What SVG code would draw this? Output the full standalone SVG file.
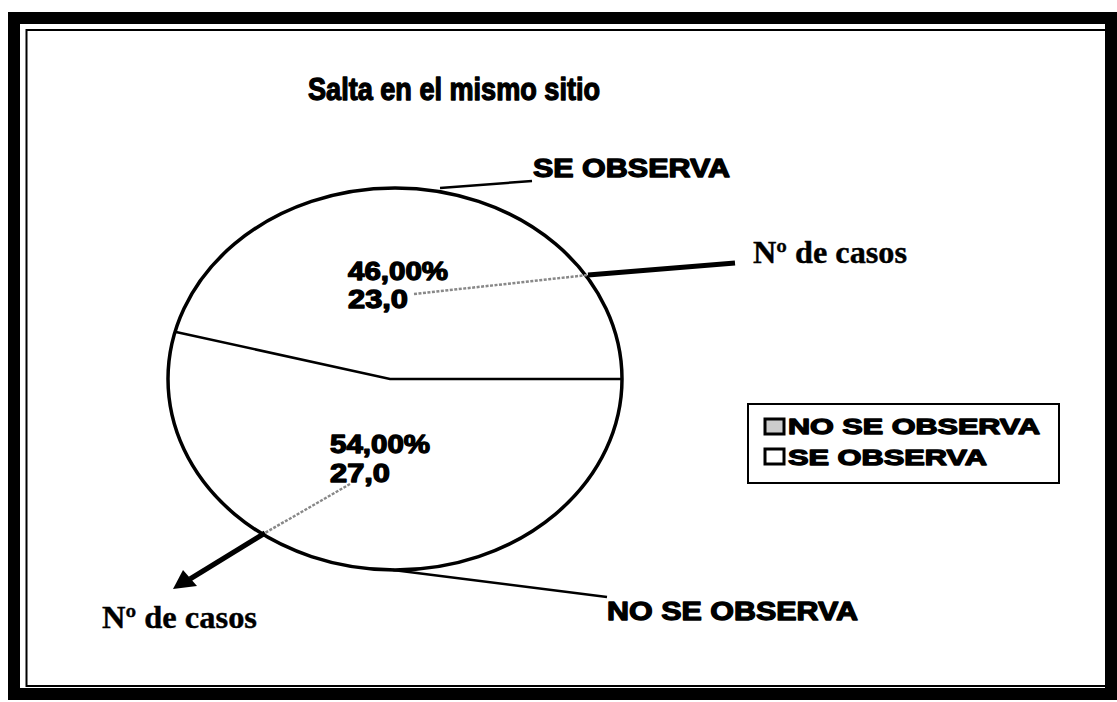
<svg xmlns="http://www.w3.org/2000/svg" width="1117" height="702" viewBox="0 0 1117 702">
<style>
.hv{font-family:"Liberation Sans",Arial,sans-serif;font-weight:bold;fill:#000;stroke:#000;stroke-width:1.3;stroke-linejoin:round}
.tm{font-family:"Liberation Serif","Times New Roman",serif;font-weight:bold;fill:#000;stroke:#000;stroke-width:0.4}
.ln{fill:none;stroke:#000;stroke-width:2.5}
.dot{fill:none;stroke:#888;stroke-width:2.5;stroke-dasharray:3 1.5}
</style>
<rect x="0" y="0" width="1117" height="702" fill="#fff"/>
<g id="frame">
<rect x="14" y="18" width="1097" height="676" fill="none" stroke="#000" stroke-width="12"/>
<rect x="26.5" y="30" width="1082" height="656" fill="none" stroke="#000" stroke-width="2"/>
</g>
<g id="title"><text class="hv" x="308" y="100" font-size="31" textLength="292" lengthAdjust="spacingAndGlyphs">Salta en el mismo sitio</text></g>
<g id="pie">
<ellipse cx="395" cy="379" rx="227" ry="191" fill="#fff" stroke="#000" stroke-width="3.5"/>
<polyline class="ln" points="176,332 390,379 622,379"/>
</g>
<g id="connectors">
<polyline class="ln" points="393,570 607,597"/>
<polyline class="ln" points="440,188 532,181"/>
<line class="dot" x1="414" y1="294" x2="588" y2="275"/>
<line x1="588" y1="275" x2="735" y2="263" stroke="#000" stroke-width="5"/>
<line class="dot" x1="350" y1="484" x2="265" y2="533"/>
<line x1="265" y1="533" x2="190" y2="579" stroke="#000" stroke-width="5"/>
<polygon points="173,589 183,570 197,586" fill="#000"/>
</g>
<g id="label-se">
<text class="hv" x="533" y="177" font-size="26" textLength="197" lengthAdjust="spacingAndGlyphs">SE OBSERVA</text>
<text class="hv" x="348" y="280" font-size="25" textLength="100" lengthAdjust="spacingAndGlyphs">46,00%</text>
<text class="hv" x="348" y="308" font-size="25" textLength="60" lengthAdjust="spacingAndGlyphs">23,0</text>
</g>
<g id="label-no">
<text class="hv" x="607" y="620" font-size="26" textLength="251" lengthAdjust="spacingAndGlyphs">NO SE OBSERVA</text>
<text class="hv" x="330" y="453" font-size="25" textLength="100" lengthAdjust="spacingAndGlyphs">54,00%</text>
<text class="hv" x="330" y="482" font-size="25" textLength="60" lengthAdjust="spacingAndGlyphs">27,0</text>
</g>
<g id="casos-right"><text class="tm" x="753" y="263" font-size="31" textLength="154" lengthAdjust="spacingAndGlyphs">Nº de casos</text></g>
<g id="casos-left"><text class="tm" x="102" y="628" font-size="31" textLength="155" lengthAdjust="spacingAndGlyphs">Nº de casos</text></g>
<g id="legend">
<rect x="748" y="404" width="311" height="79" fill="#fff" stroke="#000" stroke-width="2"/>
<rect x="765" y="419" width="19" height="15" fill="#ccc" stroke="#000" stroke-width="3"/>
<rect x="765" y="449" width="19" height="15" fill="#fff" stroke="#000" stroke-width="3"/>
<text class="hv" x="788" y="434" font-size="22" textLength="252" lengthAdjust="spacingAndGlyphs">NO SE OBSERVA</text>
<text class="hv" x="788" y="465" font-size="22" textLength="199" lengthAdjust="spacingAndGlyphs">SE OBSERVA</text>
</g>
</svg>
